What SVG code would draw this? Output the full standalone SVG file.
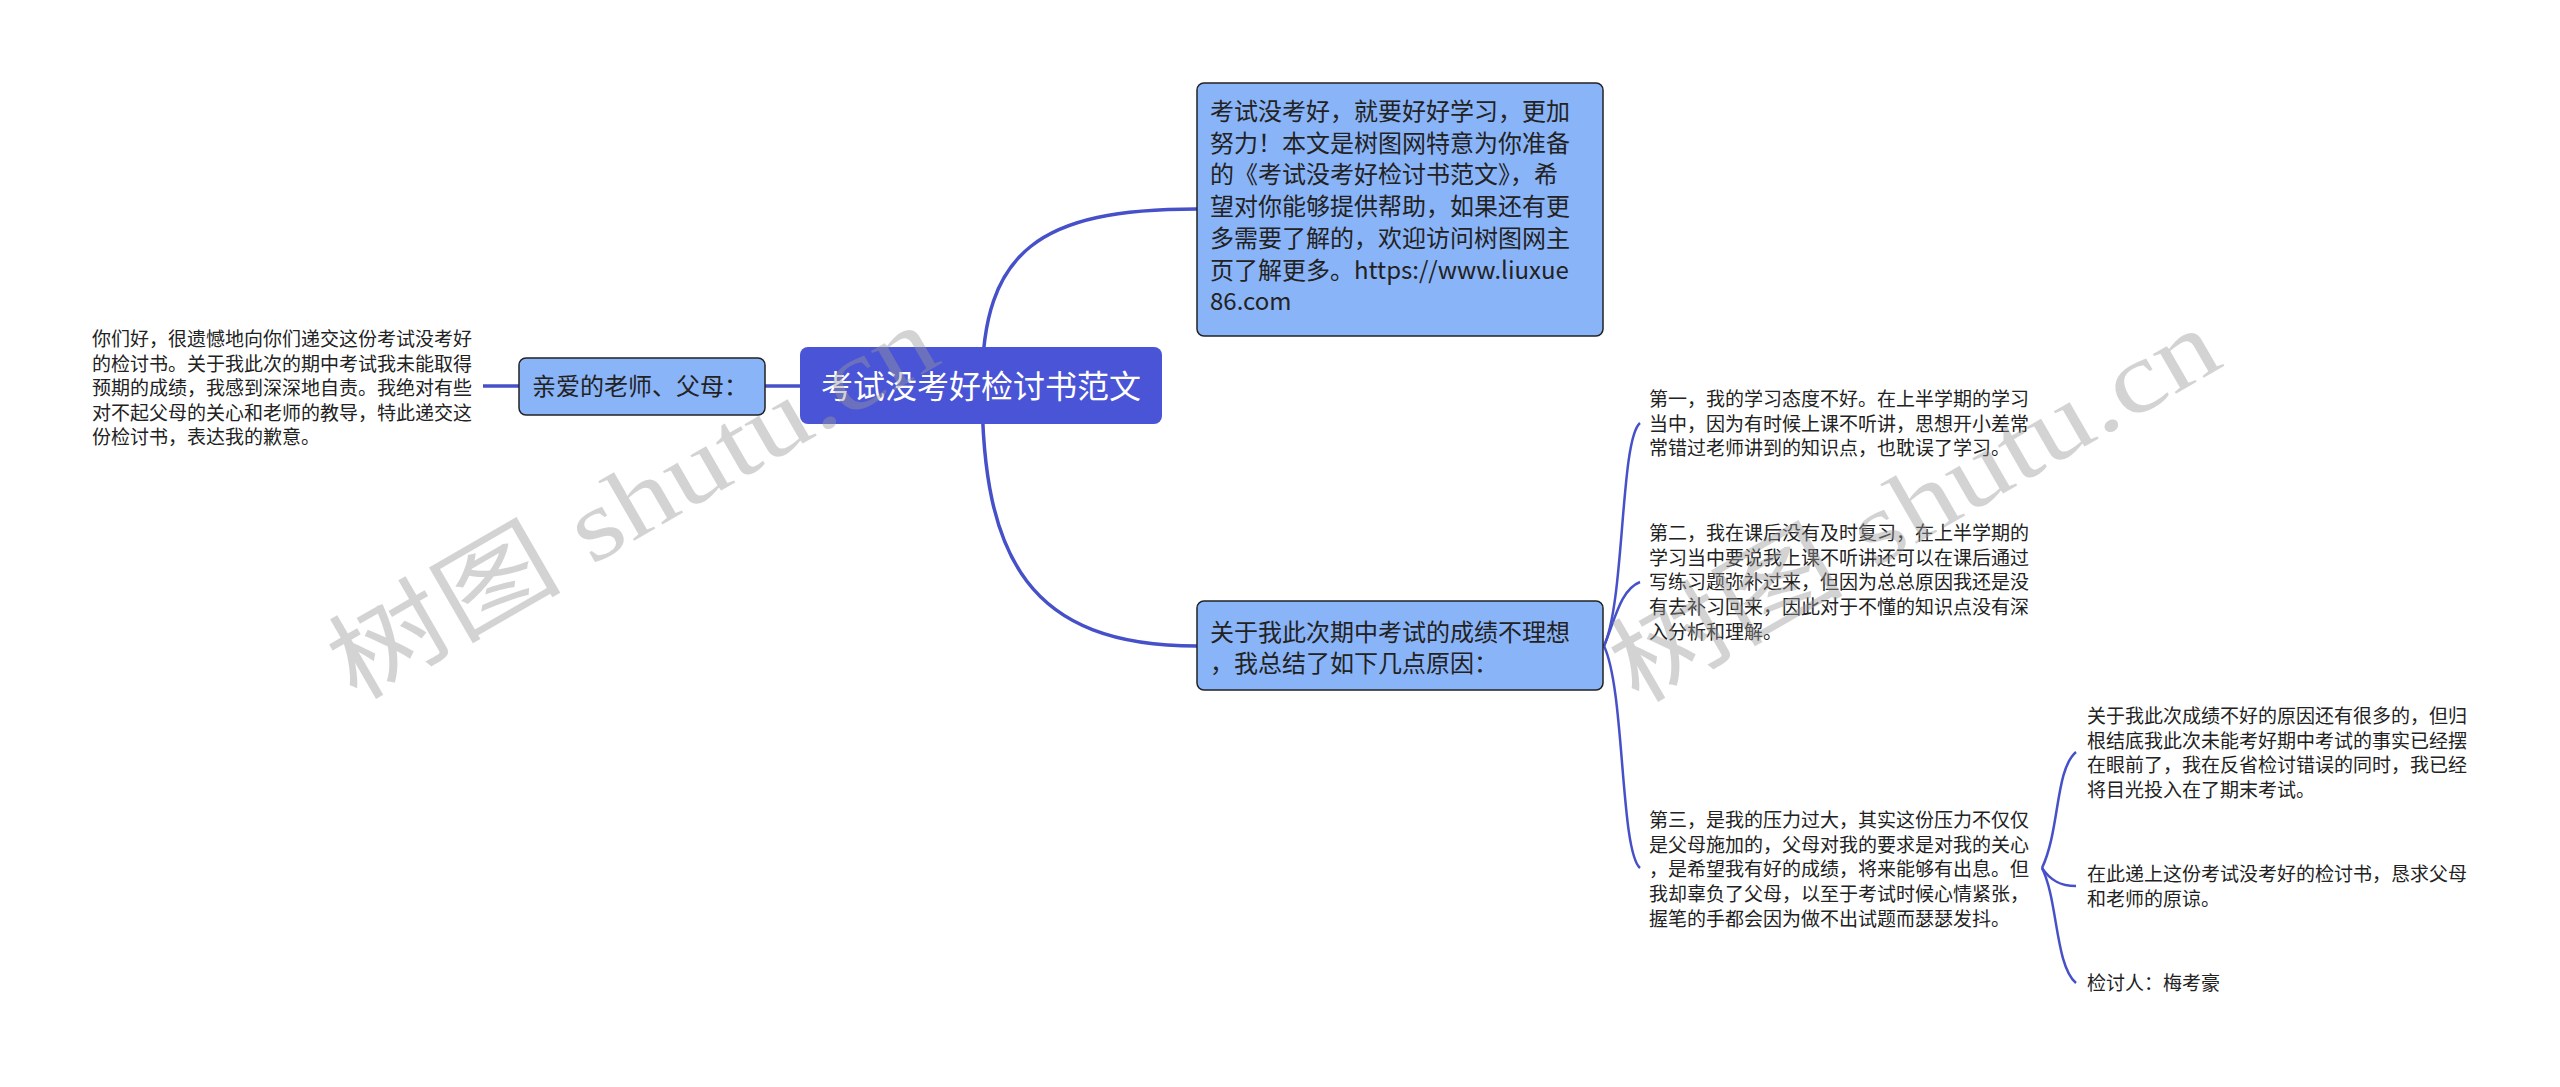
<svg xmlns="http://www.w3.org/2000/svg" width="2560" height="1087" viewBox="0 0 2560 1087">
<style>
text{font-family:"Noto Sans CJK SC","Liberation Sans",sans-serif;}
.t19{font-size:19px;fill:#222;}
.t24{font-size:24px;fill:#222;}
.root{font-size:32px;fill:#fff;}
.child{fill:#8ab4f8;stroke:#222;stroke-width:1.5;}
.rootbox{fill:#4a54d6;}
.main{fill:none;stroke:#4650c8;stroke-width:3.5;}
.thin{fill:none;stroke:#4650c8;stroke-width:2.5;}
.wm{font-family:"Liberation Serif","Noto Sans CJK SC",serif;font-size:100px;fill:#999;opacity:0.42;}
</style>
<rect width="2560" height="1087" fill="#fff"/>
<g id="connectors">
<path class="main" d="M982 386 C982 250 1040 209 1197 209"/>
<path class="main" d="M982 386 C982 560 1030 646 1197 646"/>
<path class="main" d="M764 386 L800 386"/>
<path class="main" d="M483 386 L519 386"/>
<path class="thin" d="M1604 646 C1625 600 1620 440 1640 423"/>
<path class="thin" d="M1604 646 C1615 620 1620 590 1640 582"/>
<path class="thin" d="M1604 646 C1625 690 1620 850 1640 868"/>
<path class="thin" d="M2042 868 C2060 830 2055 770 2076 752"/>
<path class="thin" d="M2042 868 C2050 880 2060 886 2076 886"/>
<path class="thin" d="M2042 868 C2058 900 2055 965 2076 983"/>
</g>
<g id="root">
<rect class="rootbox" x="800" y="347" width="362" height="77" rx="8"/>
<text class="root" x="981" y="398" text-anchor="middle">考试没考好检讨书范文</text>
</g>
<g id="node-intro">
<rect class="child" x="1197" y="83" width="406" height="253" rx="7"/>
<text class="t24" x="1210" y="120">
<tspan x="1210" y="120">考试没考好，就要好好学习，更加</tspan>
<tspan x="1210" y="151.7">努力！本文是树图网特意为你准备</tspan>
<tspan x="1210" y="183.4">的《考试没考好检讨书范文》，希</tspan>
<tspan x="1210" y="215.1">望对你能够提供帮助，如果还有更</tspan>
<tspan x="1210" y="246.8">多需要了解的，欢迎访问树图网主</tspan>
<tspan x="1210" y="278.5">页了解更多。https://www.liuxue</tspan>
<tspan x="1210" y="310.2">86.com</tspan>
</text>
</g>
<g id="node-reasons">
<rect class="child" x="1197" y="601" width="406" height="89" rx="7"/>
<text class="t24"><tspan x="1210" y="641">关于我此次期中考试的成绩不理想</tspan><tspan x="1210" y="672">，我总结了如下几点原因：</tspan></text>
</g>
<g id="node-dear">
<rect class="child" x="519" y="358" width="246" height="57" rx="7"/>
<text class="t24" x="532" y="395">亲爱的老师、父母：</text>
</g>
<g id="node-dear-text">
<text class="t19">
<tspan x="92" y="346">你们好，很遗憾地向你们递交这份考试没考好</tspan>
<tspan x="92" y="370.5">的检讨书。关于我此次的期中考试我未能取得</tspan>
<tspan x="92" y="395">预期的成绩，我感到深深地自责。我绝对有些</tspan>
<tspan x="92" y="419.5">对不起父母的关心和老师的教导，特此递交这</tspan>
<tspan x="92" y="444">份检讨书，表达我的歉意。</tspan>
</text>
</g>
<g id="node-first">
<text class="t19">
<tspan x="1649" y="406">第一，我的学习态度不好。在上半学期的学习</tspan>
<tspan x="1649" y="430.7">当中，因为有时候上课不听讲，思想开小差常</tspan>
<tspan x="1649" y="455.4">常错过老师讲到的知识点，也耽误了学习。</tspan>
</text>
</g>
<g id="node-second">
<text class="t19">
<tspan x="1649" y="540">第二，我在课后没有及时复习，在上半学期的</tspan>
<tspan x="1649" y="564.7">学习当中要说我上课不听讲还可以在课后通过</tspan>
<tspan x="1649" y="589.4">写练习题弥补过来，但因为总总原因我还是没</tspan>
<tspan x="1649" y="614.1">有去补习回来，因此对于不懂的知识点没有深</tspan>
<tspan x="1649" y="638.8">入分析和理解。</tspan>
</text>
</g>
<g id="node-third">
<text class="t19">
<tspan x="1649" y="827">第三，是我的压力过大，其实这份压力不仅仅</tspan>
<tspan x="1649" y="851.7">是父母施加的，父母对我的要求是对我的关心</tspan>
<tspan x="1649" y="876.4">，是希望我有好的成绩，将来能够有出息。但</tspan>
<tspan x="1649" y="901.1">我却辜负了父母，以至于考试时候心情紧张，</tspan>
<tspan x="1649" y="925.8">握笔的手都会因为做不出试题而瑟瑟发抖。</tspan>
</text>
</g>
<g id="node-more">
<text class="t19">
<tspan x="2087" y="723">关于我此次成绩不好的原因还有很多的，但归</tspan>
<tspan x="2087" y="747.7">根结底我此次未能考好期中考试的事实已经摆</tspan>
<tspan x="2087" y="772.4">在眼前了，我在反省检讨错误的同时，我已经</tspan>
<tspan x="2087" y="797.1">将目光投入在了期末考试。</tspan>
</text>
</g>
<g id="node-apology">
<text class="t19">
<tspan x="2087" y="881">在此递上这份考试没考好的检讨书，恳求父母</tspan>
<tspan x="2087" y="905.7">和老师的原谅。</tspan>
</text>
</g>
<g id="node-signer">
<text class="t19" x="2087" y="990">检讨人：梅考豪</text>
</g>
<g id="watermark">
<text class="wm" transform="translate(355 702) rotate(-30)" textLength="680" lengthAdjust="spacingAndGlyphs">树图 shutu.cn</text>
<text class="wm" transform="translate(1637 705) rotate(-30)" textLength="680" lengthAdjust="spacingAndGlyphs">树图 shutu.cn</text>
</g>
</svg>
